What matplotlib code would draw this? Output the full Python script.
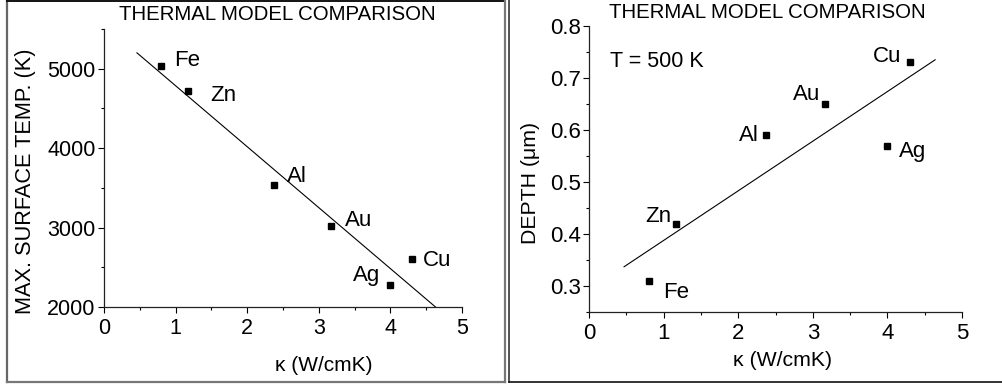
import matplotlib
matplotlib.use("Agg")
import matplotlib.pyplot as plt
from matplotlib.lines import Line2D
from matplotlib.ticker import MultipleLocator

plt.rcParams['font.family'] = ['Liberation Sans', 'DejaVu Sans']

# Thermal conductivity of each metal (W/cmK)
metals = ["Fe", "Zn", "Al", "Au", "Ag", "Cu"]
kappa = [0.80, 1.17, 2.37, 3.17, 4.00, 4.30]

# Maximum surface temperature (K)
max_temp = [5040, 4720, 3540, 3020, 2280, 2600]
# Melt depth at T = 500 K (um)
depth = [0.31, 0.42, 0.59, 0.65, 0.57, 0.73]

# Straight-line trends: end points (kappa, value)
temp_fit_k = [0.46, 4.63]
temp_fit_v = [5200, 2000]
depth_fit_k = [0.47, 4.64]
depth_fit_v = [0.337, 0.735]

# Label anchors (left, baseline) for each metal
temp_label_xy = {"Fe": (0.98, 5036), "Zn": (1.49, 4597), "Al": (2.56, 3568),
                 "Au": (3.37, 3016), "Ag": (3.48, 2326), "Cu": (4.46, 2514)}
depth_label_xy = {"Fe": (0.99, 0.277), "Zn": (0.75, 0.423), "Al": (2.01, 0.579),
                  "Au": (2.73, 0.658), "Ag": (4.16, 0.548), "Cu": (3.81, 0.731)}

W, H = 1002, 385
fig = plt.figure(figsize=(W / 100, H / 100), dpi=100)
fig.patch.set_facecolor('white')


def fx(px):
    return px / W


def fy(py):
    return 1 - py / H


axL = fig.add_axes([fx(104), fy(307), fx(462) - fx(104), fy(29) - fy(307)])
axR = fig.add_axes([fx(589), fy(312), fx(962) - fx(589), fy(26) - fy(312)])

tick_kw = dict(direction='out', colors='black', width=0.8)

for ax in (axL, axR):
    for s in ('top', 'right'):
        ax.spines[s].set_visible(False)
    for s in ('left', 'bottom'):
        ax.spines[s].set_linewidth(0.9)
        ax.spines[s].set_color('#222222')
    ax.set_xlim(0, 5)
    ax.xaxis.set_major_locator(MultipleLocator(1))
    ax.xaxis.set_minor_locator(MultipleLocator(0.5))
    ax.tick_params(which='major', length=4, pad=2, **tick_kw)
    ax.tick_params(which='minor', length=2.5, **tick_kw)
    ax.tick_params(axis='x', which='major', pad=4)
    ax.set_facecolor('none')

# Left panel: maximum surface temperature
axL.set_ylim(2000, 5500)
axL.yaxis.set_major_locator(MultipleLocator(1000))
axL.yaxis.set_minor_locator(MultipleLocator(500))
axL.tick_params(labelsize=15.5)
axL.plot(temp_fit_k, temp_fit_v, color='black', lw=0.8, clip_on=False)
axL.plot(kappa, max_temp, 's', color='black', ms=4.5, clip_on=False)
for m in metals:
    x, y = temp_label_xy[m]
    axL.text(x, y, m, fontsize=16, ha='left', va='baseline')
axL.set_xlabel('κ (W/cmK)', fontsize=15)
axL.xaxis.set_label_coords(0.615, -0.176)
axL.set_ylabel('MAX. SURFACE TEMP. (K)', fontsize=15.7)
axL.yaxis.set_label_coords(-0.19, 0.453)

# Right panel: depth
axR.set_ylim(0.25, 0.8)
axR.yaxis.set_major_locator(MultipleLocator(0.1))
axR.yaxis.set_minor_locator(MultipleLocator(0.05))
axR.yaxis.set_major_formatter(plt.FormatStrFormatter('%.1f'))
axR.tick_params(labelsize=16)
axR.plot(depth_fit_k, depth_fit_v, color='black', lw=0.8, clip_on=False)
axR.plot(kappa, depth, 's', color='black', ms=4.5, clip_on=False)
for m in metals:
    x, y = depth_label_xy[m]
    axR.text(x, y, m, fontsize=16, ha='left', va='baseline')
axR.text(0.28, 0.721, 'T = 500 K', fontsize=15.5, ha='left', va='baseline')
axR.set_xlabel('κ (W/cmK)', fontsize=15.3)
axR.xaxis.set_label_coords(0.52, -0.136)
axR.set_ylabel('DEPTH (μm)', fontsize=15.3)
axR.yaxis.set_label_coords(-0.131, 0.453)

# Panel titles
fig.text(fx(277), fy(15), 'THERMAL MODEL COMPARISON', fontsize=14.7,
         ha='center', va='center')
fig.text(fx(767), fy(13), 'THERMAL MODEL COMPARISON', fontsize=14.7,
         ha='center', va='center')

# Panel frames
frame_lines = [
    ((7, 7), (0, 382), '#666666', 1.6),
    ((7, 505), (0.7, 0.7), '#111111', 1.4),
    ((505, 505), (0, 382), '#777777', 1.6),
    ((7, 505), (381.5, 381.5), '#777777', 1.6),
    ((509, 509), (0, 382), '#333333', 1.2),
    ((509, 1002), (382, 382), '#111111', 1.2),
]
for xs, ys, c, lw in frame_lines:
    fig.add_artist(Line2D([fx(v) for v in xs], [fy(v) for v in ys],
                          color=c, lw=lw, transform=fig.transFigure))

fig.savefig('out.png', dpi=100)
